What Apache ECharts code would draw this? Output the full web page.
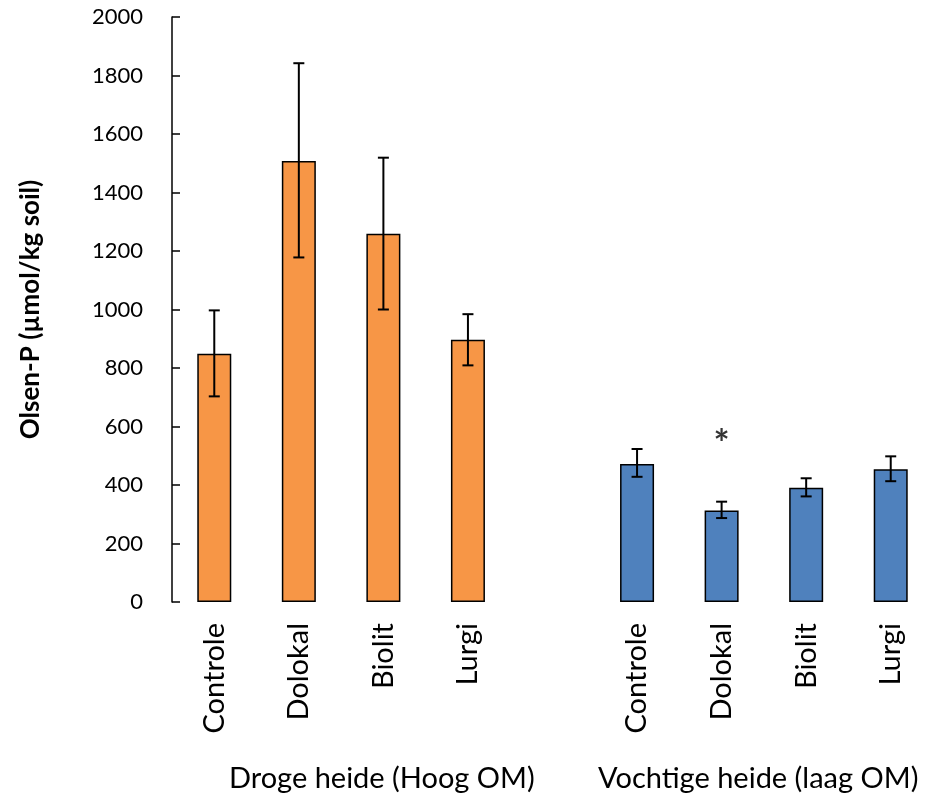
<!DOCTYPE html>
<html>
<head>
<meta charset="utf-8">
<script src="https://cdn.jsdelivr.net/npm/echarts@6/dist/echarts.min.js"></script>
<style>html,body{margin:0;padding:0;background:#fff}#c{width:933px;height:798px}</style>
</head>
<body>
<div id="c"></div>
<script>
// ---- data ----
const categories = ['Controle', 'Dolokal', 'Biolit', 'Lurgi', '', 'Controle', 'Dolokal', 'Biolit', 'Lurgi'];
const drogeValues = [849, 1508, 1259, 897];
const drogeLow = [703, 1178, 1000, 809];
const drogeHigh = [997, 1842, 1519, 984];
const vochtigValues = [472, 313, 391, 454];
const vochtigLow = [428, 287, 361, 413];
const vochtigHigh = [523, 343, 423, 498];
const sigMarks = [null, null, null, null, null, null, 537, null, null];
const groupLabels = ['Droge heide (Hoog OM)', 'Vochtige heide (laag OM)'];
const yTicks = { min: 0, max: 2000, interval: 200 };
const yTitle = 'Olsen-P (µmol/kg soil)';

// build full-length arrays (gap category in the middle)
const gap = [null];
const drogeSeries = drogeValues.concat(gap, vochtigValues.map(() => null));
const vochtigSeries = drogeValues.map(() => null).concat(gap, vochtigValues);
const errData = [];
drogeLow.forEach((lo, i) => errData.push([i, lo, drogeHigh[i]]));
vochtigLow.forEach((lo, i) => errData.push([i + drogeValues.length + 1, lo, vochtigHigh[i]]));

const FONT = 'Lato, "Open Sans", sans-serif';
const chart = echarts.init(document.getElementById('c'), null, { renderer: 'canvas' });
chart.setOption({
  animation: false,
  backgroundColor: '#fff',
  grid: { left: 172, right: 0, top: 17, bottom: 196, containLabel: false },
  xAxis: {
    type: 'category',
    data: categories,
    axisLine: { show: false },
    axisTick: { show: false },
    axisLabel: { rotate: 90, margin: 21, fontSize: 29, color: '#000', fontFamily: FONT, interval: 0 }
  },
  yAxis: {
    type: 'value',
    min: yTicks.min, max: yTicks.max, interval: yTicks.interval,
    axisLine: { show: true, lineStyle: { color: '#000', width: 1.5 } },
    axisTick: { show: true, inside: true, length: 8, lineStyle: { color: '#000', width: 1.5 } },
    splitLine: { show: false },
    axisLabel: { margin: 29, fontSize: 22, color: '#000', fontFamily: FONT, formatter: function (v) { return String(v); } },
    name: yTitle,
    nameLocation: 'middle',
    nameGap: 128,
    nameTextStyle: { fontSize: 26, fontWeight: 'bold', color: '#000', fontFamily: FONT }
  },
  series: [
    {
      type: 'bar', data: drogeSeries, barWidth: 34, barGap: '-100%',
      itemStyle: { color: '#F79646', borderColor: '#000', borderWidth: 1.5 }
    },
    {
      type: 'bar', data: vochtigSeries, barWidth: 34, barGap: '-100%',
      itemStyle: { color: '#4F81BD', borderColor: '#000', borderWidth: 1.5 }
    },
    {
      type: 'custom',
      data: errData,
      z: 10,
      renderItem: function (params, api) {
        const x = api.value(0);
        const lo = api.coord([x, api.value(1)]);
        const hi = api.coord([x, api.value(2)]);
        const hw = 5.5;
        const style = { stroke: '#000', lineWidth: 2 };
        return {
          type: 'group',
          children: [
            { type: 'line', shape: { x1: lo[0], y1: lo[1], x2: hi[0], y2: hi[1] }, style },
            { type: 'line', shape: { x1: lo[0] - hw, y1: lo[1], x2: lo[0] + hw, y2: lo[1] }, style },
            { type: 'line', shape: { x1: hi[0] - hw, y1: hi[1], x2: hi[0] + hw, y2: hi[1] }, style }
          ]
        };
      }
    },
    {
      type: 'scatter',
      data: sigMarks,
      symbolSize: 0,
      label: { show: true, position: 'inside', formatter: '*', fontSize: 38, fontWeight: 'bold', color: '#000', fontFamily: FONT }
    }
  ],
  graphic: [
    { type: 'text', left: 229, top: 764, style: { text: groupLabels[0], fontSize: 29, fill: '#000', fontFamily: FONT } },
    { type: 'text', left: 598, top: 764, style: { text: groupLabels[1], fontSize: 29, fill: '#000', fontFamily: FONT } }
  ]
});
</script>
</body>
</html>
